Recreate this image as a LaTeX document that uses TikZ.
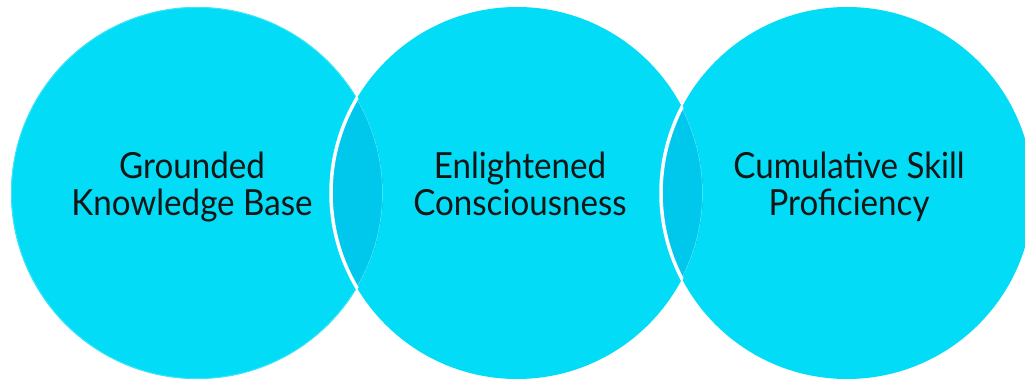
\documentclass[tikz,border=0pt]{standalone}
\usepackage{fontspec}
\setmainfont{Lato}
\definecolor{ringcyan}{HTML}{02DCF6}
\definecolor{lenscyan}{HTML}{00C7EC}
\definecolor{edgecyan}{HTML}{3FE6F8}
\definecolor{labelink}{HTML}{161616}
\tikzset{
  ring/.style={circle, inner sep=0pt, minimum size=372pt, fill=ringcyan},
  label/.style={align=center, text=labelink, font=\fontsize{36}{37}\selectfont, anchor=base, xscale=0.92, transform shape}
}
\begin{document}
\begin{tikzpicture}[x=1pt,y=-1pt]
\useasboundingbox[fill=white] (0,0) rectangle (1025,382);
\node[ring] (c1) at (197,193) {};
\node[ring] (c2) at (517,193) {};
\node[ring] (c3) at (847,193) {};
% lenses
\begin{scope}
  \clip (c1.center) circle[radius=186pt];
  \fill[lenscyan] (c2.center) circle[radius=186pt];
  \draw[edgecyan, line width=0.8pt] (c1.center) circle[radius=185.5pt];
\end{scope}
\begin{scope}
  \clip (c2.center) circle[radius=186pt];
  \fill[lenscyan] (c3.center) circle[radius=186pt];
\end{scope}
\begin{scope}
  \clip (c2.center) circle[radius=186pt];
  \clip (c3.center) circle[radius=186pt];
  \draw[edgecyan, line width=0.8pt] (c2.center) circle[radius=185.5pt];
\end{scope}
% white borders
\begin{scope}
  \clip (c1.center) circle[radius=187pt];
  \draw[white, line width=3.5pt] (c2.center) circle[radius=186pt];
\end{scope}
\begin{scope}
  \clip (c2.center) circle[radius=187pt];
  \draw[white, line width=3.5pt] (c3.center) circle[radius=186pt];
\end{scope}
\node[label] (t1) at (192,215) {Grounded\\Knowledge Base};
\node[label] (t2) at (520,215) {Enlightened\\Consciousness};
\node[label] (t3) at (849,215) {Cumulative Skill\\Proficiency};
\end{tikzpicture}
\end{document}
